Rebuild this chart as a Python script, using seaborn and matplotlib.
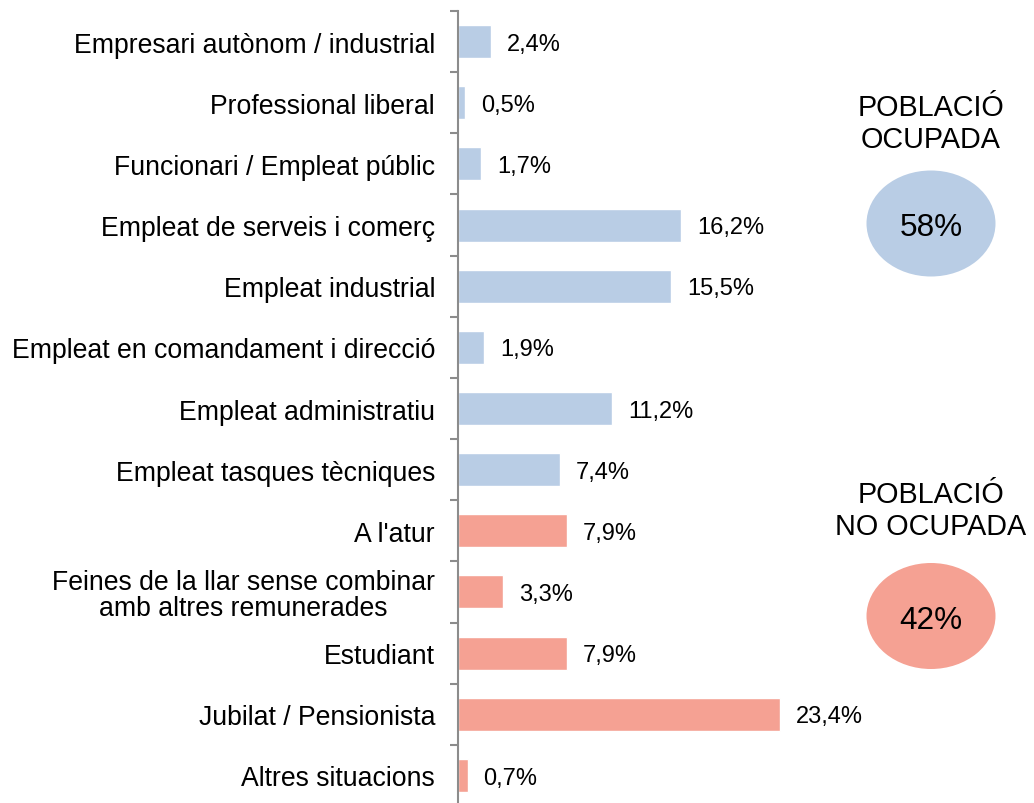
import matplotlib
matplotlib.use("Agg")
import matplotlib.pyplot as plt
from matplotlib.patches import Ellipse
from matplotlib.ticker import FixedLocator
import seaborn as sns
import pandas as pd

categories = [
    "Empresari autònom / industrial",
    "Professional liberal",
    "Funcionari / Empleat públic",
    "Empleat de serveis i comerç",
    "Empleat industrial",
    "Empleat en comandament i direcció",
    "Empleat administratiu",
    "Empleat tasques tècniques",
    "A l'atur",
    "Feines de la llar sense combinar\namb altres remunerades",
    "Estudiant",
    "Jubilat / Pensionista",
    "Altres situacions",
]
values = [2.4, 0.5, 1.7, 16.2, 15.5, 1.9, 11.2, 7.4, 7.9, 3.3, 7.9, 23.4, 0.7]
groups = ["Ocupada"] * 8 + ["No ocupada"] * 5
group_totals = {"Ocupada": 58, "No ocupada": 42}
group_titles = {"Ocupada": "POBLACIÓ\nOCUPADA", "No ocupada": "POBLACIÓ\nNO OCUPADA"}
colors = {"Ocupada": "#B9CDE5", "No ocupada": "#F5A193"}

df = pd.DataFrame({"cat": categories, "val": values, "grp": groups})

sns.set_theme(style="white")
plt.rcParams["font.family"] = ["Liberation Sans", "DejaVu Sans"]
plt.rcParams["text.color"] = "black"
plt.rcParams["ytick.color"] = "black"

fig = plt.figure(figsize=(10.34, 8.04), dpi=100)
ax = fig.add_axes([458 / 1034, -3 / 804, (827 - 458) / 1034, 795 / 804])

sns.barplot(data=df, x="val", y="cat", hue="grp", palette=colors, dodge=False,
            width=0.54, legend=False, ax=ax, orient="h", saturation=1)

px_per_unit = 13.76
ax.set_xlim(0, (827 - 458) / px_per_unit)
ax.set_ylim(len(categories) - 0.5, -0.5)
ax.set_xlabel("")
ax.set_ylabel("")
ax.set_xticks([])

for s in ["top", "right", "bottom"]:
    ax.spines[s].set_visible(False)
ax.spines["left"].set_color("#8C8C8C")
ax.spines["left"].set_linewidth(1.5)

ax.tick_params(axis="y", which="major", length=0, pad=16.5, labelsize=19.2, labelcolor="black")
ax.yaxis.set_minor_locator(FixedLocator([i - 0.5 for i in range(len(categories) + 1)]))
ax.tick_params(axis="y", which="minor", length=6, width=1.5, color="#8C8C8C", left=True)
for lbl in ax.get_yticklabels():
    lbl.set_multialignment("center")
    lbl.set_linespacing(1.0)

for i, v in enumerate(values):
    ax.annotate(f"{v:.1f}".replace(".", ",") + "%", xy=(v, i), xytext=(11.5, -1.5),
                textcoords="offset points", va="center", ha="left", fontsize=17,
                color="black")

# group summary ellipses
specs = {"Ocupada": (9.31, (804 - 224.5) / 100, 9.31, (804 - 124) / 100),
         "No ocupada": (9.31, (804 - 617) / 100, 9.31, (804 - 511) / 100)}
for g, (ex, ey, tx, ty) in specs.items():
    e = Ellipse((ex, ey), 1.29, 1.06, transform=fig.dpi_scale_trans,
                facecolor=colors[g], edgecolor="none")
    fig.add_artist(e)
    fig.text(ex, ey - 0.04, f"{group_totals[g]}%", transform=fig.dpi_scale_trans,
             ha="center", va="center", fontsize=22.7, color="black")
    fig.text(tx, ty, group_titles[g], transform=fig.dpi_scale_trans,
             ha="center", va="center", fontsize=20.7, linespacing=1.2,
             multialignment="center", color="black")

fig.savefig("out.png", dpi=100)
